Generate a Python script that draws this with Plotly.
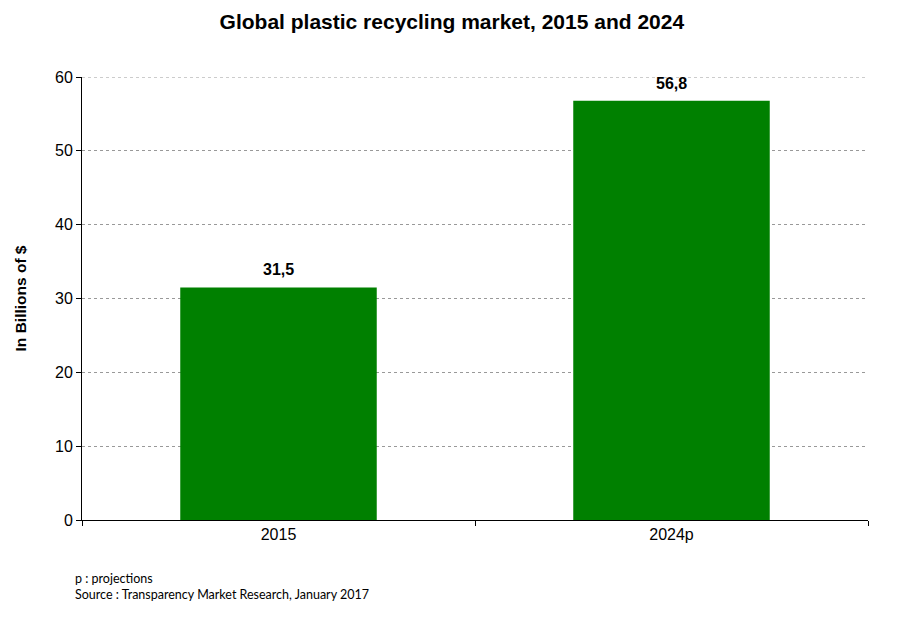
import plotly.graph_objects as go

categories = ["2015", "2024p"]
values = [31.5, 56.8]
y_ticks = [0, 10, 20, 30, 40, 50, 60]

fig = go.Figure()
fig.add_trace(go.Bar(
    x=categories, y=values,
    marker=dict(color="#008000", line=dict(width=0)),
    width=0.5,
))
for i, v in enumerate(values):
    fig.add_annotation(x=i, y=v, xref="x", yref="y",
                       text="<b>" + f"{v:.1f}".replace(".", ",") + "</b>",
                       showarrow=False, yanchor="bottom", yshift=7,
                       font=dict(family="Liberation Sans, Arial", size=16, color="black"))

fig.update_layout(
    width=904, height=628,
    margin=dict(l=71, r=44, t=69, b=116),
    plot_bgcolor="white", paper_bgcolor="white",
    showlegend=False,
    title=dict(text="<b>Global plastic recycling market, 2015 and 2024</b>",
               x=0.491, xanchor="center", y=0.978, yanchor="middle",
               font=dict(family="Liberation Sans, Arial", size=21, color="black")),
    font=dict(family="Liberation Sans, Arial", size=16, color="black"),
    bargap=0.5,
)
fig.update_xaxes(
    type="category", categoryorder="array", categoryarray=categories,
    showline=True, linecolor="black", linewidth=1,
    ticks="outside", tickson="boundaries", ticklen=5, tickcolor="black",
    tickfont=dict(size=16), showgrid=False, tickangle=0,
)
fig.update_yaxes(
    range=[0, 60], tickvals=y_ticks,
    showline=True, linecolor="black", linewidth=1,
    ticks="outside", ticklen=5, tickcolor="black",
    showgrid=True, gridcolor="#999999", griddash="3px,3px", gridwidth=1,
    zeroline=False,
    tickfont=dict(size=16),
    title=dict(text="<b>In Billions of $</b>", font=dict(size=15.5), standoff=24),
)
fig.add_shape(type="line", xref="paper", yref="y", x0=0, x1=1, y0=y_ticks[-1], y1=y_ticks[-1],
              line=dict(color="#999999", width=1, dash="3px,3px"), layer="below")
fig.add_annotation(text="p : projections", xref="paper", yref="paper",
                   x=-0.011, y=-0.131, xanchor="left", yanchor="middle", showarrow=False,
                   font=dict(family="Lato, Noto Sans", size=12.5, color="black"))
fig.add_annotation(text="Source : Transparency Market Research, January 2017", xref="paper", yref="paper",
                   x=-0.011, y=-0.169, xanchor="left", yanchor="middle", showarrow=False,
                   font=dict(family="Lato, Noto Sans", size=12.5, color="black"))
fig.write_html("out.html")
